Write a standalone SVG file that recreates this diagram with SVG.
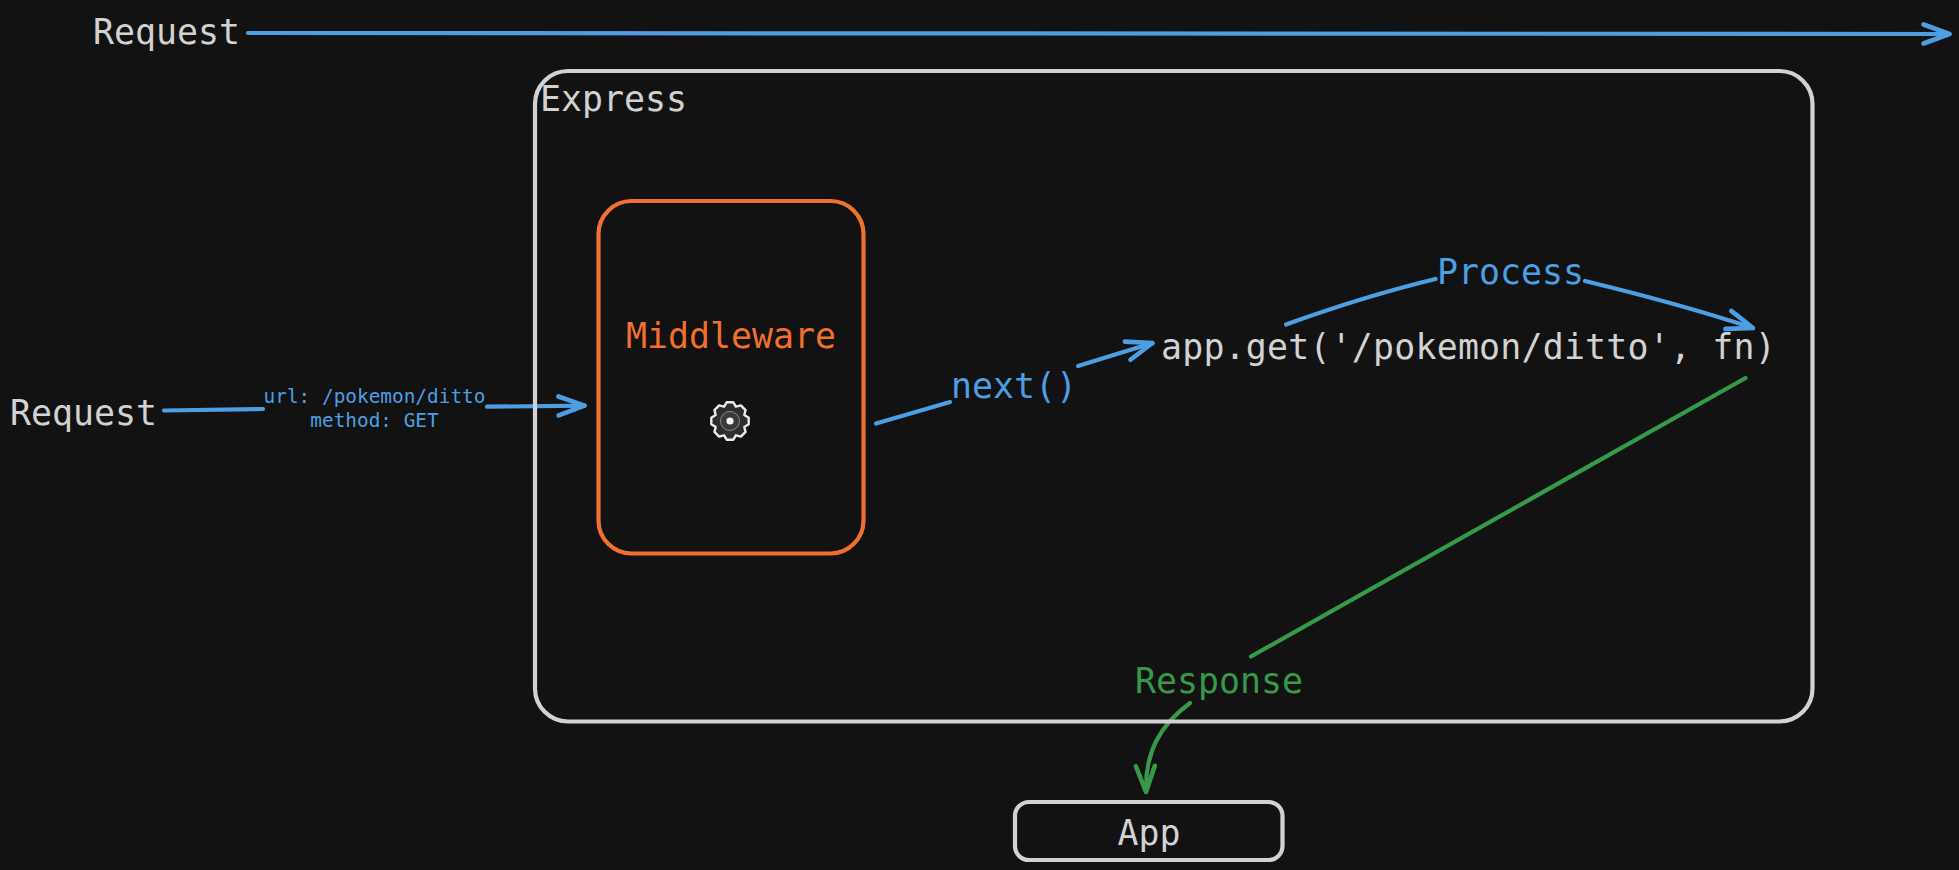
<svg xmlns="http://www.w3.org/2000/svg" width="1959" height="870" viewBox="0 0 1959 870">
<style>
text{font-family:"DejaVu Sans Mono","Liberation Mono",monospace;font-size:34.9px;fill:#d2d2d2}
.box{fill:none;stroke:#d2d2d2;stroke-width:4.2}
.c{fill:none;stroke-width:4.2;stroke-linecap:round;stroke-linejoin:round}
.blue{stroke:#4d9fe3}
.green{stroke:#379a49}
.tb{fill:#4d9fe3}
.tg{fill:#379a49}
.to{fill:#f0702f}
.small{font-size:19.4px;text-anchor:middle}
</style>
<defs>
<marker id="hb" markerUnits="userSpaceOnUse" markerWidth="40" markerHeight="40" refX="32" refY="20" orient="auto" overflow="visible"><path d="M6 10.500L32 20L6 29.500" fill="none" stroke="#4d9fe3" stroke-width="4.600" stroke-linecap="round" stroke-linejoin="round"/></marker>
<marker id="hg" markerUnits="userSpaceOnUse" markerWidth="40" markerHeight="40" refX="32" refY="20" orient="auto" overflow="visible"><path d="M6 10.500L32 20L6 29.500" fill="none" stroke="#379a49" stroke-width="4.600" stroke-linecap="round" stroke-linejoin="round"/></marker>
</defs>
<rect width="1959" height="870" fill="#121212"/>
<g id="connectors">
<path class="c blue" d="M248 33L1949.500 34" marker-end="url(#hb)"/>
<path class="c blue" d="M164 410.500L263 409"/>
<path class="c blue" d="M487 406.700L584.500 405.700" marker-end="url(#hb)"/>
<text class="small tb" x="374.500" y="403">url: /pokemon/ditto</text>
<text class="small tb" x="374.500" y="427">method: GET</text>
<path class="c blue" d="M876 423.500L950 402"/>
<path class="c blue" d="M1078 366L1152.500 343" marker-end="url(#hb)"/>
<text class="tb" x="951" y="398">next()</text>
<path class="c blue" d="M1286 324.500Q1365 296 1435.500 279"/>
<path class="c blue" d="M1585 281Q1680 304 1753 328" marker-end="url(#hb)"/>
<text class="tb" x="1437" y="284">Process</text>
<path class="c green" d="M1745.500 378L1251 656.500"/>
<path class="c green" d="M1190 703C1160 725 1145 752 1146 792" marker-end="url(#hg)"/>
<text class="tg" x="1135" y="692.700">Response</text>
</g>
<g id="request-top"><text x="93" y="44.300">Request</text></g>
<g id="request-left"><text x="10" y="425">Request</text></g>
<g id="express">
<rect class="box" x="535" y="71" width="1277.500" height="650.500" rx="33"/>
<text x="540" y="110.700">Express</text>
</g>
<g id="middleware">
<rect x="598.500" y="201" width="265" height="352.500" rx="33" fill="none" stroke="#f0702f" stroke-width="4.200"/>
<text class="to" x="626" y="348">Middleware</text>
<g transform="translate(730 421)">
<path d="M18.710 -3.300L18.710 3.300L14.320 5.930L15.560 10.900L10.900 15.560L5.930 14.320L3.300 18.710L-3.300 18.710L-5.930 14.320L-10.900 15.560L-15.560 10.900L-14.320 5.930L-18.710 3.300L-18.710 -3.300L-14.320 -5.930L-15.560 -10.900L-10.900 -15.560L-5.930 -14.320L-3.300 -18.710L3.300 -18.710L5.930 -14.320L10.900 -15.560L15.560 -10.900L14.320 -5.930Z" fill="#2e2e2e" stroke="#ececec" stroke-width="2.400" stroke-linejoin="round"/>
<circle r="9.500" fill="#3a3a3a" stroke="#8a8a8a" stroke-width="1"/>
<circle r="3.600" fill="#f4f4f4"/>
</g>
</g>
<g id="app-get"><text x="1161" y="359" letter-spacing="0.2">app.get('/pokemon/ditto', fn)</text></g>
<g id="app">
<rect class="box" x="1015" y="802" width="267.500" height="58" rx="14"/>
<text x="1149" y="845" text-anchor="middle">App</text>
</g>
</svg>
